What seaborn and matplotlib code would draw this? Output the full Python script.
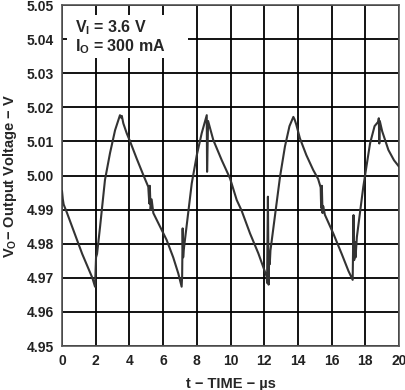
import numpy as np
import pandas as pd
import matplotlib
matplotlib.use("Agg")
import matplotlib.pyplot as plt
from matplotlib.patches import Rectangle
import seaborn as sns

# waveform (time in us, voltage in V)
time_us = [
    0.00, 0.05, 0.10, 0.30, 0.60, 0.90, 1.20, 1.50, 1.80, 1.96,
    2.02, 2.08, 2.26, 2.55, 2.85, 3.15, 3.44, 3.50, 3.55, 3.64, 3.84,
    4.04, 4.43, 4.83, 5.12, 5.18, 5.21, 5.26, 5.32, 5.42, 5.82,
    6.21, 6.60, 6.90, 7.10, 7.13, 7.16, 7.19, 7.22, 7.70, 8.00,
    8.29, 8.59, 8.61, 8.67, 8.98, 9.48, 9.97, 10.37, 10.66, 11.16,
    11.65, 12.15, 12.17, 12.22, 12.26, 12.30, 12.33, 12.37, 12.94, 13.23,
    13.50, 13.73, 13.80, 13.90, 14.12, 14.50, 14.91, 15.20, 15.35, 15.38,
    15.42, 15.46, 15.50, 15.60, 16.10, 16.60, 17.00, 17.25, 17.30, 17.34,
    17.38, 17.42, 17.50, 17.88, 18.28, 18.55, 18.77, 18.80, 18.83, 18.86,
    19.00, 19.37, 19.70, 20.00,
]
vout = [
    4.9955, 4.9930, 4.9915, 4.9890, 4.9850, 4.9810, 4.9770, 4.9735, 4.9700, 4.9674,
    4.9760, 4.9770, 4.9850, 4.9987, 5.0066, 5.0133, 5.0177, 5.0170, 5.0175, 5.0153, 5.0124,
    5.0100, 5.0050, 5.0001, 4.9967, 4.9918, 4.9970, 4.9899, 4.9930, 4.9890, 4.9850,
    4.9811, 4.9760, 4.9713, 4.9674, 4.9705, 4.9845, 4.9760, 4.9780, 4.9977, 5.0060,
    5.0124, 5.0177, 5.0011, 5.0160, 5.0104, 5.0045, 4.9992, 4.9928, 4.9897, 4.9830,
    4.9772, 4.9703, 4.9685, 4.9938, 4.9680, 4.9770, 4.9740, 4.9780, 4.9997, 5.0085,
    5.0145, 5.0172, 5.0165, 5.0150, 5.0109, 5.0060, 5.0016, 4.9990, 4.9965, 4.9905,
    4.9970, 4.9890, 4.9910, 4.9885, 4.9830, 4.9770, 4.9720, 4.9694, 4.9884, 4.9752,
    4.9805, 4.9760, 4.9820, 4.9967, 5.0094, 5.0145, 5.0158, 5.0168, 5.0094, 5.0160,
    5.0130, 5.0075, 5.0045, 5.0026,
]

x_ticks = list(range(0, 21, 2))
y_ticks = [4.95, 4.96, 4.97, 4.98, 4.99, 5.00, 5.01, 5.02, 5.03, 5.04, 5.05]

df = pd.DataFrame({"t": time_us, "v": vout})

sns.set_theme(style="white")
plt.rcParams["font.family"] = ["Liberation Sans", "DejaVu Sans"]
plt.rcParams["font.weight"] = "bold"
plt.rcParams["mathtext.fontset"] = "custom"
plt.rcParams["mathtext.rm"] = "Liberation Sans:bold"

fig = plt.figure(figsize=(4.06, 3.90), dpi=100)
ax = fig.add_axes([0.1527, 0.1128, 0.8301, 0.8742])

ax.set_axisbelow(True)
ax.grid(True, color="black", linewidth=1.3)

sns.lineplot(data=df, x="t", y="v", sort=False, estimator=None,
             color="#333333", linewidth=1.5, ax=ax, zorder=3)

# white patch behind the conditions text
ax.add_patch(Rectangle((0.3, 5.0345), 7.2, 0.0126, facecolor="white",
                       edgecolor="none", zorder=1.5))
ax.text(0.75, 5.0433, "V$_\\mathregular{I}$ = 3.6 V", fontsize=11.5,
        fontweight="bold", va="center", zorder=4)
ax.text(0.75, 5.0377, "I$_\\mathregular{O}$ = 300 mA", fontsize=11.5,
        fontweight="bold", va="center", zorder=4)

ax.set_xlim(0, 20)
ax.set_ylim(4.95, 5.05)
ax.set_xticks(x_ticks)
ax.set_yticks(y_ticks)
ax.set_xticklabels([str(x) for x in x_ticks], fontsize=10, fontweight="bold")
ax.set_yticklabels([f"{y:.2f}" for y in y_ticks], fontsize=10, fontweight="bold")
ax.tick_params(length=0, pad=6, colors="#222222")

ax.set_xlabel("t \u2212 TIME \u2212 \u00b5s", fontsize=10.5, fontweight="bold", labelpad=6)
ax.set_ylabel("V$_\\mathregular{O}$\u2212 Output Voltage \u2212 V", fontsize=10.5,
              fontweight="bold", labelpad=5)

for s in ax.spines.values():
    s.set_color("#555555")
    s.set_linewidth(1.2)

fig.savefig("out.png", dpi=100)
